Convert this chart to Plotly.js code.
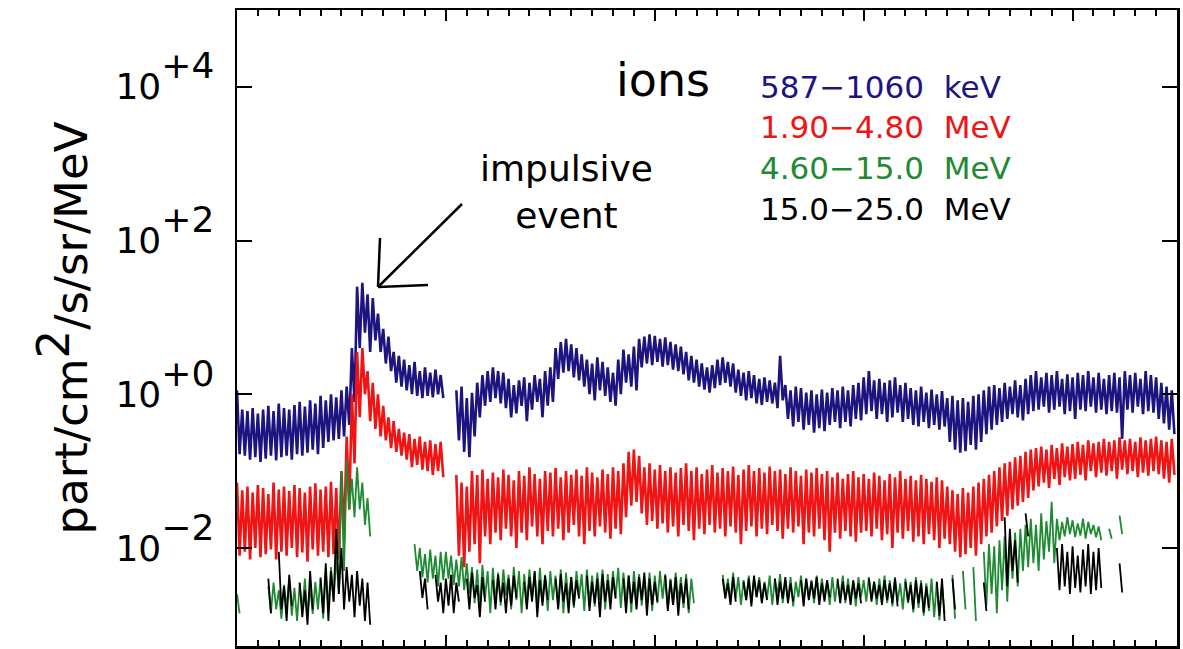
<!DOCTYPE html>
<html>
<head>
<meta charset="utf-8">
<script src="https://cdn.plot.ly/plotly-3.0.1.min.js"></script>
<style>
  html, body { margin: 0; padding: 0; background: #fff; }
  #chart { width: 1183px; height: 649px; }
</style>
</head>
<body>
<div id="chart"></div>
<script>
// Ion intensities, log10(part/cm^2/s/sr/MeV): upper and lower envelope per time bin
const binStart = 0;        // days
const binWidth = 0.025;    // days per bin (180 bins)

const blueHi = [
  0.05,-0.20,-0.22,-0.18,-0.25,-0.20,-0.15,-0.22,-0.12,-0.18,
  -0.20,-0.14,-0.10,-0.16,-0.08,-0.12,-0.02,-0.08,0.00,-0.04,
  0.05,0.10,0.60,1.40,1.45,1.30,1.25,1.05,0.85,0.75,
  0.55,0.50,0.45,0.38,0.42,0.30,0.35,0.28,0.32,0.25,
  null,null,0.05,0.10,-0.05,0.02,0.15,0.25,0.30,0.35,
  0.30,0.28,0.20,0.12,0.18,0.22,0.15,0.25,0.20,0.30,
  0.35,0.60,0.68,0.72,0.65,0.60,0.52,0.45,0.40,0.48,
  0.42,0.35,0.28,0.45,0.58,0.52,0.62,0.72,0.75,0.78,
  0.76,0.72,0.74,0.68,0.65,0.62,0.55,0.50,0.45,0.40,
  0.35,0.38,0.45,0.48,0.42,0.40,0.32,0.28,0.30,0.25,
  0.20,0.22,0.18,0.15,0.50,0.12,0.05,0.10,0.08,0.02,
  0.05,0.00,0.06,0.02,0.08,0.05,0.10,0.05,0.12,0.15,
  0.22,0.30,0.18,0.20,0.15,0.18,0.22,0.12,0.15,0.08,
  0.05,0.10,0.02,0.06,0.00,0.04,-0.05,-0.02,-0.08,-0.05,
  -0.10,-0.02,0.00,0.05,0.10,0.12,0.08,0.15,0.10,0.18,
  0.12,0.20,0.25,0.30,0.22,0.28,0.25,0.30,0.20,0.26,
  0.22,0.28,0.25,0.30,0.22,0.28,0.20,0.25,0.28,0.22,
  0.30,0.25,0.28,0.20,0.30,0.25,0.22,0.15,0.10,0.05
];
const blueLo = [
  -0.78,-0.80,-0.85,-0.82,-0.88,-0.84,-0.80,-0.86,-0.82,-0.80,
  -0.85,-0.78,-0.80,-0.76,-0.72,-0.78,-0.70,-0.62,-0.60,-0.58,
  -0.55,-0.40,-0.10,0.60,0.80,0.55,0.70,0.55,0.40,0.30,
  0.15,0.10,0.05,0.00,-0.02,-0.05,-0.02,-0.04,0.00,-0.05,
  null,null,-0.60,-0.75,-0.82,-0.55,-0.30,-0.15,-0.10,-0.05,
  -0.12,-0.18,-0.30,-0.25,-0.15,-0.35,-0.20,-0.10,-0.30,-0.15,
  -0.10,0.20,0.28,0.30,0.22,0.18,0.10,0.00,-0.08,0.05,
  -0.02,-0.10,-0.15,0.00,0.15,0.10,0.05,0.35,0.40,0.38,
  0.42,0.36,0.38,0.32,0.30,0.26,0.18,0.15,0.10,0.06,
  0.02,0.08,0.12,0.15,0.10,0.02,-0.02,-0.08,-0.05,-0.12,
  -0.14,-0.10,-0.12,-0.18,-0.08,-0.32,-0.42,-0.36,-0.46,-0.40,
  -0.50,-0.44,-0.48,-0.40,-0.36,-0.44,-0.36,-0.42,-0.32,-0.34,
  -0.26,-0.22,-0.32,-0.26,-0.36,-0.30,-0.24,-0.36,-0.32,-0.40,
  -0.42,-0.36,-0.44,-0.40,-0.46,-0.42,-0.62,-0.72,-0.76,-0.74,
  -0.66,-0.72,-0.62,-0.52,-0.46,-0.40,-0.36,-0.32,-0.26,-0.30,
  -0.34,-0.26,-0.22,-0.20,-0.16,-0.24,-0.20,-0.16,-0.26,-0.22,
  -0.32,-0.20,-0.22,-0.16,-0.24,-0.20,-0.26,-0.22,-0.24,-0.58,
  -0.20,-0.24,-0.16,-0.26,-0.22,-0.24,-0.32,-0.38,-0.46,-0.52
];

const redHi = [
  -1.15,-1.25,-1.20,-1.28,-1.18,-1.22,-1.30,-1.15,-1.24,-1.20,
  -1.26,-1.18,-1.22,-1.28,-1.20,-1.16,-1.24,-1.20,-1.14,-1.22,
  -1.00,-0.55,0.00,0.55,0.60,0.30,0.15,0.00,-0.15,-0.30,
  -0.35,-0.45,-0.50,-0.52,-0.58,-0.55,-0.62,-0.60,-0.65,-0.62,
  null,null,-1.05,-1.15,-1.20,-1.00,-1.05,-0.98,-1.10,-1.02,
  -1.08,-0.98,-1.05,-1.12,-1.00,-1.06,-0.95,-1.04,-1.10,-1.00,
  -1.02,-0.96,-1.08,-1.00,-1.05,-0.98,-1.06,-0.95,-1.02,-1.08,
  -0.98,-1.04,-0.95,-1.00,-0.90,-0.75,-0.72,-0.80,-0.95,-0.90,
  -0.98,-0.92,-1.00,-0.95,-1.02,-0.96,-0.90,-1.00,-0.95,-1.04,
  -0.98,-0.92,-1.02,-0.96,-1.00,-0.94,-1.05,-0.98,-0.92,-1.00,
  -0.96,-1.02,-0.94,-1.00,-0.98,-1.04,-0.95,-1.00,-1.06,-0.98,
  -1.02,-0.96,-1.04,-1.00,-1.08,-1.02,-1.10,-1.04,-1.00,-1.08,
  -1.04,-1.10,-1.02,-1.06,-1.12,-1.04,-1.08,-1.00,-1.10,-1.06,
  -1.12,-1.05,-1.10,-1.14,-1.08,-1.12,-1.20,-1.25,-1.30,-1.22,
  -1.28,-1.20,-1.15,-1.10,-1.05,-1.00,-0.95,-0.90,-0.88,-0.82,
  -0.80,-0.75,-0.72,-0.70,-0.68,-0.72,-0.66,-0.70,-0.64,-0.68,
  -0.65,-0.62,-0.66,-0.60,-0.64,-0.62,-0.58,-0.62,-0.60,-0.56,
  -0.60,-0.58,-0.62,-0.56,-0.60,-0.58,-0.55,-0.60,-0.62,-0.58
];
const redLo = [
  -2.10,-2.05,-2.15,-2.00,-2.12,-2.08,-2.02,-2.15,-2.05,-2.10,
  -2.00,-2.12,-2.06,-2.18,-2.02,-2.10,-2.05,-2.12,-2.08,-2.15,
  -1.90,-1.50,-0.90,-0.30,0.00,-0.35,-0.45,-0.55,-0.60,-0.70,
  -0.75,-0.80,-0.85,-0.95,-0.92,-0.98,-1.00,-1.05,-1.00,-1.08,
  null,null,-2.10,-2.25,-2.05,-1.95,-2.20,-1.85,-1.95,-1.80,
  -1.90,-1.75,-1.85,-2.00,-1.80,-1.90,-1.72,-1.85,-1.95,-1.78,
  -1.85,-1.75,-1.90,-1.80,-1.70,-1.85,-1.95,-1.78,-1.85,-1.72,
  -1.80,-1.88,-1.75,-1.82,-1.60,-1.45,-1.40,-1.55,-1.70,-1.65,
  -1.75,-1.68,-1.80,-1.72,-1.85,-1.70,-1.78,-1.90,-1.75,-1.82,
  -1.70,-1.80,-1.75,-1.85,-1.72,-1.80,-1.95,-1.78,-1.72,-1.85,
  -1.75,-1.82,-1.70,-1.78,-1.88,-1.75,-1.80,-1.72,-1.95,-1.80,
  -1.85,-1.75,-1.90,-2.05,-1.80,-1.88,-1.78,-1.85,-1.92,-1.80,
  -1.78,-1.85,-1.75,-1.90,-1.82,-2.00,-1.80,-1.88,-1.78,-1.92,
  -1.85,-1.95,-1.82,-1.90,-2.00,-1.88,-1.95,-2.05,-2.12,-2.08,
  -2.00,-2.10,-1.95,-1.85,-1.80,-1.72,-1.65,-1.58,-1.50,-1.45,
  -1.40,-1.35,-1.25,-1.20,-1.15,-1.22,-1.10,-1.18,-1.08,-1.12,
  -1.10,-1.05,-1.12,-1.00,-1.08,-1.02,-1.06,-1.00,-1.10,-0.98,
  -1.04,-1.00,-1.08,-1.02,-1.06,-1.00,-1.04,-1.10,-1.15,-1.05
];

const greenHi = [
  -2.60,null,null,null,null,null,-2.50,-2.45,-2.55,-2.48,
  -2.42,-2.52,-2.46,-2.40,-2.50,-2.44,-2.38,-2.30,-2.25,-2.10,
  -1.00,-0.85,-1.10,-0.95,-1.15,-1.35,null,null,null,null,
  null,null,null,null,-1.95,-2.00,-2.08,-2.02,-2.10,-2.05,
  -2.05,-2.10,-2.15,-2.12,-2.20,-2.25,-2.28,-2.22,-2.30,-2.26,
  -2.32,-2.28,-2.35,-2.25,-2.30,-2.34,-2.28,-2.32,-2.26,-2.35,
  -2.30,-2.36,-2.28,-2.32,-2.38,-2.30,-2.34,-2.28,-2.36,-2.32,
  -2.28,-2.34,-2.30,-2.26,-2.32,-2.36,-2.30,-2.34,-2.38,-2.32,
  -2.36,-2.30,-2.34,-2.40,-2.32,-2.38,-2.34,-2.40,null,null,
  null,null,null,-2.35,-2.40,-2.32,-2.38,-2.42,-2.36,-2.40,
  -2.38,-2.44,-2.36,-2.40,-2.34,-2.42,-2.38,-2.44,-2.36,-2.40,
  -2.42,-2.36,-2.40,-2.44,-2.38,-2.42,-2.36,-2.40,-2.44,-2.38,
  -2.42,-2.38,-2.44,-2.40,-2.36,-2.42,-2.38,-2.46,-2.40,-2.44,
  -2.38,-2.42,-2.46,-2.40,-2.44,-2.48,null,-2.35,null,-2.30,
  null,-2.25,null,-2.05,-1.95,-1.98,-1.90,-1.85,-1.88,-1.80,
  -1.75,-1.70,-1.62,-1.70,-1.55,-1.65,-1.40,-1.62,-1.66,-1.60,
  -1.64,-1.68,-1.62,-1.66,-1.70,-1.72,null,-1.75,null,-1.58,
  null,null,null,null,null,null,null,null,null,null
];
const greenLo = [
  -2.85,null,null,null,null,null,-2.85,-2.80,-2.92,-2.78,
  -2.88,-2.95,-2.82,-2.90,-2.86,-2.80,-2.92,-2.78,-2.70,-2.60,
  -2.30,-1.50,-1.60,-1.50,-1.70,-1.85,null,null,null,null,
  null,null,null,null,-2.30,-2.38,-2.45,-2.40,-2.50,-2.42,
  -2.40,-2.48,-2.50,-2.55,-2.60,-2.72,-2.80,-2.65,-2.85,-2.70,
  -2.75,-2.62,-2.80,-2.68,-2.85,-2.72,-2.65,-2.78,-2.70,-2.82,
  -2.68,-2.75,-2.85,-2.70,-2.78,-2.64,-2.82,-2.72,-2.76,-2.68,
  -2.80,-2.70,-2.65,-2.78,-2.72,-2.84,-2.68,-2.75,-2.70,-2.82,
  -2.72,-2.66,-2.80,-2.74,-2.70,-2.78,-2.85,-2.72,null,null,
  null,null,null,-2.62,-2.70,-2.66,-2.74,-2.68,-2.72,-2.64,
  -2.70,-2.66,-2.74,-2.62,-2.72,-2.68,-2.76,-2.64,-2.70,-2.66,
  -2.72,-2.68,-2.64,-2.74,-2.70,-2.66,-2.72,-2.68,-2.76,-2.64,
  -2.70,-2.66,-2.74,-2.68,-2.72,-2.76,-2.70,-2.80,-2.72,-2.84,
  -2.78,-2.88,-2.82,-2.90,-2.94,-2.86,null,-2.92,null,-2.80,
  null,-2.95,null,-2.75,-2.60,-2.85,-2.55,-2.70,-2.40,-2.50,
  -2.30,-2.25,-2.20,-2.30,-2.15,-2.05,-2.20,-1.90,-1.85,-1.82,
  -1.86,-1.84,-1.88,-1.82,-1.86,-1.90,null,-1.88,null,-1.82,
  null,null,null,null,null,null,null,null,null,null
];

const blackHi = [
  null,null,null,null,null,null,-2.40,null,-2.05,-2.50,
  -2.35,null,-2.45,-2.55,-2.30,null,-2.40,-2.20,-2.30,-1.75,
  -2.00,-2.25,-2.35,-2.30,-2.40,-2.45,null,null,null,null,
  null,null,null,null,null,-2.30,-2.40,null,-2.35,-2.45,
  -2.40,-2.35,-2.45,null,-2.40,-2.32,-2.48,-2.38,null,-2.42,
  -2.35,-2.45,-2.40,-2.36,null,-2.44,-2.38,-2.30,-2.42,-2.36,
  null,-2.40,-2.34,-2.46,-2.38,-2.42,null,-2.36,-2.44,-2.40,
  -2.34,-2.42,-2.38,null,-2.40,-2.36,-2.44,-2.38,-2.32,-2.40,
  -2.44,null,-2.36,-2.42,-2.38,-2.46,-2.40,null,null,null,
  null,null,null,-2.40,-2.46,-2.38,null,-2.44,-2.40,-2.36,
  -2.42,-2.46,null,-2.40,-2.44,-2.38,-2.46,null,-2.42,-2.40,
  -2.44,-2.38,-2.46,-2.42,null,-2.40,-2.44,-2.48,-2.42,-2.46,
  null,-2.40,-2.44,-2.48,-2.42,-2.46,-2.40,null,-2.44,-2.48,
  -2.42,-2.46,-2.50,null,-2.44,-2.40,null,-2.40,null,null,
  null,null,null,-2.45,null,null,null,-1.60,-1.75,-1.90,
  null,-1.55,null,null,null,null,null,-2.00,-1.95,-2.05,
  -1.98,-2.10,-2.02,-1.95,-2.05,-2.00,null,null,null,-2.20,
  null,null,null,null,null,null,null,null,null,null
];
const blackLo = [
  null,null,null,null,null,null,-2.85,null,-2.80,-2.95,
  -2.75,null,-2.90,-3.00,-2.80,null,-2.85,-2.95,-2.70,-2.60,
  -2.80,-2.70,-2.90,-2.75,-2.95,-3.00,null,null,null,null,
  null,null,null,null,null,-2.65,-2.80,null,-2.70,-2.85,
  -2.75,-2.85,-2.70,null,-2.80,-2.65,-2.90,-2.70,null,-2.80,
  -2.70,-2.85,-2.75,-2.65,null,-2.80,-2.70,-2.90,-2.75,-2.68,
  null,-2.80,-2.70,-2.85,-2.75,-2.66,null,-2.82,-2.72,-2.90,
  -2.70,-2.80,-2.66,null,-2.85,-2.72,-2.80,-2.68,-2.88,-2.74,
  -2.70,null,-2.82,-2.74,-2.88,-2.72,-2.80,null,null,null,
  null,null,null,-2.66,-2.74,-2.70,null,-2.68,-2.76,-2.64,
  -2.72,-2.68,null,-2.74,-2.66,-2.72,-2.70,null,-2.76,-2.68,
  -2.66,-2.74,-2.70,-2.64,null,-2.72,-2.68,-2.74,-2.66,-2.72,
  null,-2.70,-2.66,-2.74,-2.68,-2.72,-2.76,null,-2.70,-2.80,
  -2.72,-2.84,-2.78,null,-2.88,-2.95,null,-2.80,null,null,
  null,null,null,-2.82,null,null,null,-2.50,-2.30,-2.45,
  null,-1.85,null,null,null,null,null,-2.55,-2.50,-2.60,
  -2.52,-2.58,-2.50,-2.60,-2.55,-2.52,null,null,null,-2.58,
  null,null,null,null,null,null,null,null,null,null
];

const channelLabels = ['587\u22121060\u00a0 keV', '1.90\u22124.80\u00a0 MeV', '4.60\u221215.0\u00a0 MeV', '15.0\u221225.0\u00a0 MeV'];
const channelColors = ['#1e1480', '#f01414', '#1e8a32', '#000000'];

const yTickVals = [1e-2, 1, 1e2, 1e4];
const yTickExp = ['\u22122', '+0', '+2', '+4'];

// Each bin contributes its upper and then its lower value; joining them
// with straight segments gives the dense, jagged band of a noisy series.
function bandTrace(hi, lo, color, width) {
  const x = [], y = [];
  for (let i = 0; i < hi.length; i++) {
    const t = binStart + i * binWidth;
    if (hi[i] === null || lo[i] === null) { x.push(t); y.push(null); continue; }
    x.push(t, t + binWidth / 2);
    y.push(Math.pow(10, hi[i]), Math.pow(10, lo[i]));
  }
  return { x, y, type: 'scatter', mode: 'lines', connectgaps: false,
           line: { shape: 'linear', color, width, simplify: false }, hoverinfo: 'skip' };
}

const traces = [
  bandTrace(blueHi, blueLo, channelColors[0], 2.6),
  bandTrace(redHi, redLo, channelColors[1], 2.6),
  bandTrace(greenHi, greenLo, channelColors[2], 1.8),
  bandTrace(blackHi, blackLo, channelColors[3], 1.8)
];

// plot frame in page pixels, for placing text and the arrow
const frame = { left: 237, right: 1177, top: 10, bottom: 646 };
const px = v => (v - frame.left) / (frame.right - frame.left);
const py = v => (frame.bottom - v) / (frame.bottom - frame.top);

const textFont = 'DejaVu Sans, sans-serif';
const annotations = [
  { text: 'ions', x: px(663), y: py(80), xanchor: 'center', yanchor: 'middle',
    font: { family: textFont, size: 46, color: '#000' } },
  { text: 'impulsive<br>event', x: px(566), y: py(192), xanchor: 'center', yanchor: 'middle',
    font: { family: textFont, size: 36, color: '#000' } }
];
channelLabels.forEach((label, k) => {
  annotations.push({ text: label, x: px(758), y: py(87 + 40.5 * k), xanchor: 'left', yanchor: 'middle',
    font: { family: textFont, size: 31, color: channelColors[k] } });
});
annotations.forEach(a => { a.xref = 'paper'; a.yref = 'paper'; a.showarrow = false; });

// open arrow pointing at the impulsive peak
const arrowTip = [378, 287];
const arrowLines = [[462, 204], [380, 238], [428, 285]];
const shapes = arrowLines.map(([ex, ey]) => ({
  type: 'line', xref: 'paper', yref: 'paper',
  x0: px(arrowTip[0]), y0: py(arrowTip[1]), x1: px(ex), y1: py(ey),
  line: { color: '#000', width: 2.5 }
}));

const layout = {
  width: 1183, height: 649,
  margin: { l: frame.left, r: 1183 - frame.right, t: frame.top, b: 649 - frame.bottom },
  paper_bgcolor: '#fff', plot_bgcolor: '#fff',
  showlegend: false,
  font: { family: textFont, color: '#000' },
  xaxis: {
    range: [0, 4.5], showgrid: false, zeroline: false,
    showline: true, linewidth: 2.5, linecolor: '#000', mirror: 'allticks',
    ticks: 'inside', tick0: 0, dtick: 1, ticklen: 11, tickwidth: 2, tickcolor: '#000',
    minor: { ticks: 'inside', tick0: 0, dtick: 0.1, ticklen: 6, tickwidth: 2, tickcolor: '#000', showgrid: false },
    showticklabels: false
  },
  yaxis: {
    type: 'log', range: [-3.276, 5.0], showgrid: false, zeroline: false,
    showline: true, linewidth: 2.5, linecolor: '#000', mirror: 'allticks',
    ticks: 'inside', ticklen: 15, tickwidth: 2, tickcolor: '#000',
    tickvals: yTickVals,
    ticktext: yTickExp.map(e => '10<span style="baseline-shift:21px">' + e + '</span>'),
    tickfont: { family: textFont, size: 36, color: '#000' },
    ticklabelstandoff: 13,
    title: {
      text: 'part/cm<span style="baseline-shift:18px">2</span>/s/sr/MeV',
      font: { family: textFont, size: 45, color: '#000' },
      standoff: 14
    }
  },
  annotations, shapes
};

Plotly.newPlot('chart', traces, layout, { staticPlot: true });
</script>
</body>
</html>
